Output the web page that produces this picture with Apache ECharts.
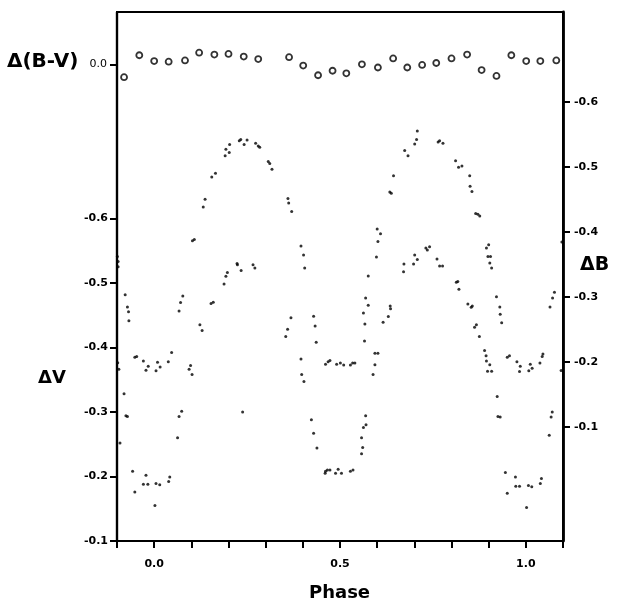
<!DOCTYPE html>
<html>
<head>
<meta charset="utf-8">
<script src="https://cdn.jsdelivr.net/npm/echarts@6/dist/echarts.min.js"></script>
<style>
html,body{margin:0;padding:0;background:#fff;}
#chart{width:640px;height:607px;}
</style>
</head>
<body>
<div id="chart"></div>
<script>
// ---- data ----
const phaseB = [-0.099,-0.097,-0.097,-0.078,-0.072,-0.069,-0.068,-0.052,-0.047,-0.029,-0.022,-0.016,0.005,0.009,0.016,0.038,0.047,0.067,0.071,0.077,0.103,0.108,0.132,0.137,0.155,0.165,0.191,0.193,0.202,0.203,0.229,0.233,0.242,0.250,0.273,0.280,0.284,0.307,0.311,0.317,0.360,0.362,0.370,0.395,0.402,0.405,0.429,0.433,0.436,0.461,0.468,0.473,0.491,0.501,0.510,0.528,0.534,0.540,0.566,0.567,0.563,0.569,0.576,0.576,0.598,0.602,0.600,0.609,0.634,0.638,0.644,0.674,0.683,0.701,0.706,0.708,0.764,0.768,0.777,0.811,0.819,0.828,0.849,0.850,0.855,0.865,0.871,0.876,0.894,0.900,0.898,0.905,0.903,0.908,0.921,0.930,0.931,0.935,0.950,0.956,0.976,0.985,0.983,1.008,1.012,1.017,1.038,1.044,1.046,1.065,1.072,1.077,1.097];
const deltaB = [-0.362,-0.354,-0.346,-0.303,-0.284,-0.277,-0.263,-0.207,-0.208,-0.201,-0.187,-0.193,-0.186,-0.199,-0.192,-0.200,-0.214,-0.278,-0.291,-0.301,-0.386,-0.388,-0.438,-0.450,-0.484,-0.490,-0.517,-0.527,-0.522,-0.534,-0.540,-0.542,-0.534,-0.541,-0.536,-0.532,-0.530,-0.508,-0.505,-0.496,-0.451,-0.444,-0.431,-0.378,-0.364,-0.344,-0.270,-0.255,-0.230,-0.196,-0.200,-0.202,-0.196,-0.198,-0.195,-0.195,-0.198,-0.198,-0.232,-0.258,-0.275,-0.298,-0.287,-0.332,-0.361,-0.385,-0.404,-0.397,-0.461,-0.459,-0.486,-0.525,-0.517,-0.535,-0.542,-0.555,-0.538,-0.540,-0.536,-0.509,-0.499,-0.501,-0.486,-0.470,-0.462,-0.428,-0.427,-0.424,-0.375,-0.380,-0.362,-0.362,-0.352,-0.344,-0.300,-0.284,-0.273,-0.260,-0.207,-0.209,-0.200,-0.193,-0.185,-0.186,-0.196,-0.190,-0.198,-0.208,-0.212,-0.284,-0.298,-0.307,-0.384];

const phaseV = [-0.098,-0.095,-0.092,-0.081,-0.076,-0.072,-0.058,-0.052,-0.029,-0.022,-0.017,0.002,0.005,0.015,0.039,0.042,0.063,0.067,0.074,0.094,0.098,0.102,0.123,0.129,0.153,0.159,0.188,0.193,0.197,0.223,0.224,0.234,0.238,0.266,0.271,0.354,0.359,0.368,0.395,0.397,0.403,0.423,0.429,0.438,0.460,0.461,0.466,0.473,0.488,0.495,0.504,0.528,0.535,0.558,0.561,0.558,0.563,0.570,0.569,0.589,0.594,0.594,0.602,0.616,0.630,0.635,0.636,0.671,0.672,0.698,0.701,0.708,0.731,0.735,0.741,0.761,0.768,0.776,0.813,0.817,0.820,0.844,0.853,0.856,0.862,0.867,0.875,0.889,0.893,0.894,0.897,0.903,0.908,0.923,0.925,0.931,0.945,0.950,0.972,0.973,0.983,1.002,1.007,1.016,1.039,1.042,1.063,1.068,1.071,1.095];
const deltaV = [-0.376,-0.366,-0.252,-0.328,-0.294,-0.293,-0.208,-0.176,-0.188,-0.202,-0.188,-0.155,-0.189,-0.187,-0.192,-0.199,-0.260,-0.293,-0.301,-0.366,-0.372,-0.358,-0.435,-0.426,-0.468,-0.470,-0.498,-0.510,-0.516,-0.530,-0.528,-0.519,-0.300,-0.528,-0.523,-0.417,-0.428,-0.446,-0.382,-0.358,-0.347,-0.288,-0.267,-0.244,-0.205,-0.208,-0.210,-0.210,-0.205,-0.211,-0.205,-0.208,-0.210,-0.235,-0.245,-0.260,-0.276,-0.280,-0.294,-0.358,-0.373,-0.391,-0.391,-0.439,-0.448,-0.464,-0.460,-0.517,-0.529,-0.529,-0.543,-0.536,-0.554,-0.551,-0.556,-0.537,-0.526,-0.526,-0.501,-0.502,-0.490,-0.467,-0.462,-0.464,-0.431,-0.435,-0.417,-0.395,-0.387,-0.379,-0.363,-0.373,-0.363,-0.324,-0.293,-0.292,-0.206,-0.174,-0.199,-0.185,-0.185,-0.152,-0.186,-0.184,-0.189,-0.197,-0.264,-0.292,-0.300,-0.364];

const phaseBV = [-0.081,-0.040,0.000,0.039,0.083,0.121,0.162,0.200,0.241,0.280,0.363,0.401,0.441,0.480,0.517,0.559,0.602,0.643,0.681,0.721,0.759,0.800,0.842,0.881,0.921,0.961,1.001,1.039,1.082];
const deltaBV = [0.020,-0.014,-0.005,-0.004,-0.006,-0.018,-0.015,-0.016,-0.012,-0.008,-0.011,0.002,0.017,0.010,0.014,0.000,0.005,-0.009,0.005,0.001,-0.002,-0.009,-0.015,0.009,0.018,-0.014,-0.005,-0.005,-0.006];

const vTicks = [-0.1,-0.2,-0.3,-0.4,-0.5,-0.6];
const bTicks = [-0.1,-0.2,-0.3,-0.4,-0.5,-0.6];
const bvTicks = [0.0];
const phaseLabels = [0.0,0.5,1.0];

// ---- axis ranges ----
const V_RANGE = [-0.9196, -0.1];
const B_RANGE = [-0.738, 0.0758];
const BV_RANGE = [-0.081, 0.7386];

// ---- chart ----
const zip = (a,b) => a.map((v,i)=>[v,b[i]]);
const FONT = '"DejaVu Sans", "Liberation Sans", sans-serif';
const labelStyle = {color:'#000', fontFamily:FONT, fontWeight:'bold', fontSize:11};
const chart = echarts.init(document.getElementById('chart'), null, {renderer:'canvas'});
chart.setOption({
  animation:false,
  backgroundColor:'#fff',
  grid:{left:117,right:77,top:12,bottom:66,show:true,borderColor:'#000',borderWidth:2,backgroundColor:'transparent'},
  xAxis:{
    type:'value',min:-0.1,max:1.1,interval:0.1,
    axisLine:{show:true,onZero:false,lineStyle:{color:'#000',width:2.2}},
    axisTick:{show:true,inside:false,length:7,lineStyle:{color:'#000',width:2}},
    axisLabel:Object.assign({},labelStyle,{margin:18,customValues:phaseLabels,formatter:v=>Number(v).toFixed(1)}),
    splitLine:{show:false}
  },
  yAxis:[
    {type:'value',position:'left',inverse:true,min:V_RANGE[0],max:V_RANGE[1],
     axisLine:{show:true,onZero:false,lineStyle:{color:'#000',width:2.2}},
     axisTick:{show:true,inside:false,length:7,customValues:vTicks,lineStyle:{color:'#000',width:2}},
     axisLabel:Object.assign({},labelStyle,{margin:9,customValues:vTicks,formatter:v=>Number(v).toFixed(1)}),
     splitLine:{show:false}},
    {type:'value',position:'right',inverse:true,min:B_RANGE[0],max:B_RANGE[1],
     axisLine:{show:true,onZero:false,lineStyle:{color:'#000',width:2.8}},
     axisTick:{show:true,inside:false,length:7,customValues:bTicks,lineStyle:{color:'#000',width:2}},
     axisLabel:Object.assign({},labelStyle,{margin:11,customValues:bTicks,formatter:v=>Number(v).toFixed(1)}),
     splitLine:{show:false}},
    {type:'value',position:'left',offset:0,inverse:true,min:BV_RANGE[0],max:BV_RANGE[1],
     axisLine:{show:true,onZero:false,lineStyle:{color:'#000',width:2.2}},
     axisTick:{show:true,inside:false,length:7,customValues:bvTicks,lineStyle:{color:'#000',width:2}},
     axisLabel:Object.assign({},labelStyle,{margin:10,fontSize:11,fontWeight:'normal',customValues:bvTicks,formatter:v=>Number(v).toFixed(1)}),
     splitLine:{show:false}}
  ],
  graphic:[
    {type:'text',left:7,top:52,style:{text:'Δ(B-V)',font:'bold 20px '+FONT,fill:'#000'}},
    {type:'text',left:38,top:369,style:{text:'ΔV',font:'bold 18px '+FONT,fill:'#000'}},
    {type:'text',left:580,top:256,style:{text:'ΔB',font:'bold 19px '+FONT,fill:'#000'}},
    {type:'text',left:309,top:584,style:{text:'Phase',font:'bold 18px '+FONT,fill:'#000'}}
  ],
  series:[
    {type:'scatter',name:'ΔV',yAxisIndex:0,data:zip(phaseV,deltaV),symbol:'circle',symbolSize:3,itemStyle:{color:'#000'}},
    {type:'scatter',name:'ΔB',yAxisIndex:1,data:zip(phaseB,deltaB),symbol:'circle',symbolSize:3,itemStyle:{color:'#000'}},
    {type:'scatter',name:'Δ(B-V)',yAxisIndex:2,data:zip(phaseBV,deltaBV),symbol:'circle',symbolSize:6,
     itemStyle:{color:'#fff',borderColor:'#000',borderWidth:1.8}}
  ]
});
</script>
</body>
</html>
